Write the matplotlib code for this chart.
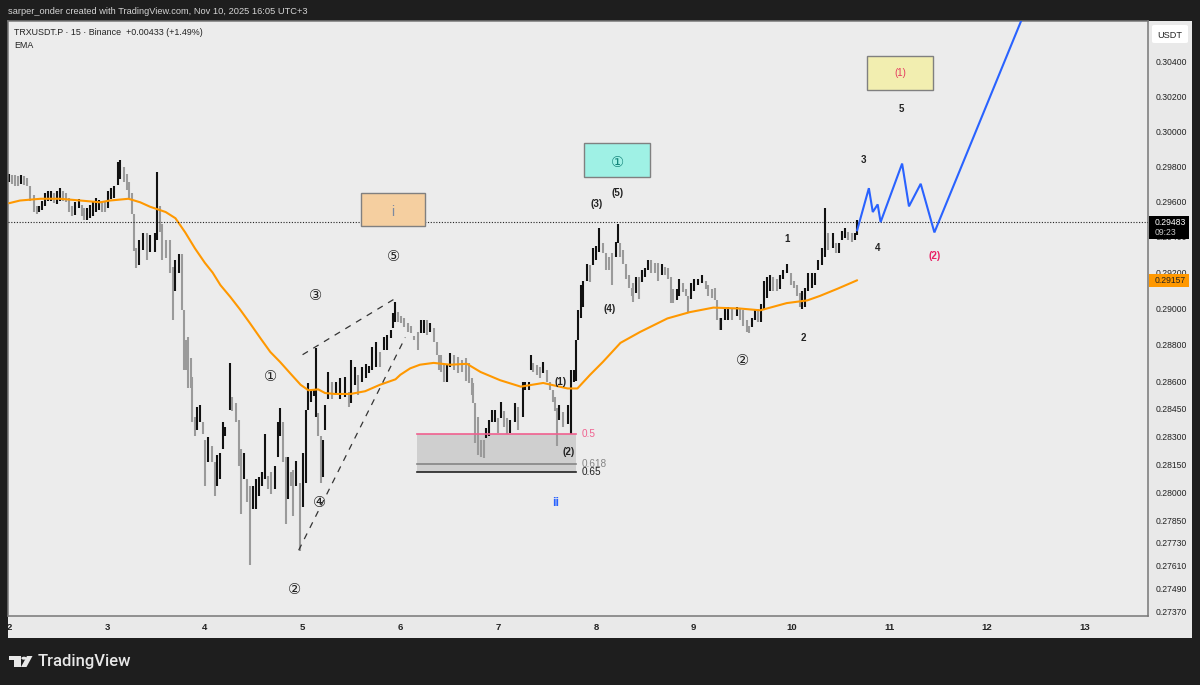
import matplotlib
matplotlib.use("Agg")
import matplotlib.pyplot as plt
from matplotlib.patches import Rectangle, Circle, Polygon, FancyBboxPatch

plt.rcParams['font.family'] = ['Liberation Sans', 'DejaVu Sans', 'Noto Sans CJK SC']

# 15 minute bars (day of month, high, low in 1e-5 USDT)
bar_days = [
    2.00, 2.03, 2.06, 2.09, 2.12, 2.15, 2.18, 2.21, 2.25, 2.28, 2.31, 2.34, 2.37, 2.40, 2.43, 2.46, 2.49, 2.52, 2.55, 2.58,
    2.61, 2.64, 2.67, 2.71, 2.74, 2.77, 2.80, 2.83, 2.86, 2.89, 2.92, 2.95, 2.98, 3.01, 3.04, 3.07, 3.11, 3.13, 3.17, 3.20,
    3.23, 3.26, 3.28, 3.30, 3.33, 3.37, 3.41, 3.44, 3.49, 3.51, 3.54, 3.56, 3.60, 3.64, 3.67, 3.70, 3.74, 3.77, 3.79, 3.81,
    3.83, 3.86, 3.87, 3.90, 3.92, 3.95, 3.98, 4.00, 4.03, 4.07, 4.10, 4.13, 4.16, 4.19, 4.21, 4.26, 4.28, 4.32, 4.35, 4.37,
    4.40, 4.43, 4.46, 4.49, 4.52, 4.55, 4.58, 4.62, 4.65, 4.68, 4.72, 4.75, 4.77, 4.80, 4.83, 4.85, 4.88, 4.90, 4.93, 4.97,
    5.00, 5.03, 5.06, 5.09, 5.12, 5.14, 5.16, 5.19, 5.21, 5.23, 5.26, 5.30, 5.34, 5.38, 5.43, 5.47, 5.50, 5.54, 5.57, 5.61,
    5.65, 5.68, 5.71, 5.75, 5.79, 5.83, 5.86, 5.90, 5.92, 5.95, 5.98, 6.01, 6.04, 6.08, 6.11, 6.14, 6.18, 6.21, 6.24, 6.27,
    6.30, 6.34, 6.37, 6.39, 6.42, 6.45, 6.48, 6.51, 6.55, 6.59, 6.63, 6.67, 6.70, 6.73, 6.74, 6.76, 6.79, 6.82, 6.85, 6.88,
    6.91, 6.94, 6.97, 7.00, 7.03, 7.06, 7.09, 7.12, 7.17, 7.20, 7.25, 7.27, 7.31, 7.34, 7.36, 7.40, 7.43, 7.46, 7.50, 7.53,
    7.56, 7.58, 7.60, 7.62, 7.66, 7.71, 7.74, 7.77, 7.80, 7.82, 7.85, 7.87, 7.91, 7.94, 7.97, 8.00, 8.03, 8.07, 8.10, 8.13,
    8.16, 8.20, 8.22, 8.25, 8.28, 8.31, 8.34, 8.37, 8.38, 8.41, 8.44, 8.47, 8.50, 8.53, 8.56, 8.60, 8.63, 8.67, 8.71, 8.74,
    8.77, 8.79, 8.83, 8.85, 8.89, 8.92, 8.94, 8.97, 9.00, 9.04, 9.08, 9.12, 9.15, 9.19, 9.22, 9.24, 9.27, 9.28, 9.32, 9.35,
    9.39, 9.44, 9.47, 9.50, 9.54, 9.56, 9.60, 9.63, 9.66, 9.69, 9.72, 9.75, 9.78, 9.81, 9.85, 9.88, 9.91, 9.95, 9.99, 10.02,
    10.06, 10.09, 10.11, 10.14, 10.17, 10.21, 10.24, 10.27, 10.31, 10.34, 10.37, 10.42, 10.45, 10.48, 10.52, 10.55, 10.58,
    10.62, 10.65, 10.67,
]
bar_high = [
    29755, 29750, 29750, 29745, 29750, 29745, 29735, 29690, 29635, 29575, 29575, 29605, 29650, 29660, 29660, 29645, 29660, 29675, 29660, 29650,
    29620, 29575, 29595, 29615, 29580, 29560, 29560, 29580, 29605, 29620, 29610, 29605, 29595, 29660, 29675, 29685, 29825, 29835, 29795, 29755,
    29710, 29650, 29530, 29335, 29380, 29420, 29420, 29410, 29420, 29765, 29575, 29470, 29380, 29380, 29230, 29270, 29305, 29305, 28990, 28825,
    28840, 28725, 28620, 28405, 28460, 28470, 28375, 28280, 28295, 28245, 28160, 28200, 28210, 28375, 28350, 28700, 28515, 28480, 28390, 28230,
    28210, 28070, 28030, 28030, 28070, 28080, 28110, 28310, 28085, 28105, 28140, 28375, 28455, 28375, 28190, 28190, 28110, 28120, 28165, 28050,
    28210, 28445, 28590, 28550, 28550, 28780, 28425, 28300, 28280, 28470, 28650, 28595, 28595, 28615, 28620, 28540, 28715, 28675, 28635, 28675,
    28695, 28685, 28785, 28815, 28760, 28840, 28855, 28880, 28975, 29035, 28980, 28960, 28945, 28920, 28905, 28850, 28870, 28935, 28935, 28935,
    28920, 28890, 28815, 28745, 28745, 28690, 28690, 28755, 28745, 28735, 28715, 28725, 28700, 28615, 28590, 28480, 28405, 28280, 28280, 28345,
    28390, 28445, 28445, 28400, 28485, 28435, 28400, 28390, 28480, 28460, 28595, 28595, 28595, 28745, 28700, 28690, 28675, 28705, 28660, 28595,
    28550, 28515, 28455, 28470, 28430, 28470, 28660, 28660, 28825, 28990, 29130, 29155, 29250, 29240, 29335, 29350, 29450, 29365, 29310, 29285,
    29310, 29370, 29475, 29365, 29325, 29250, 29185, 29115, 29140, 29175, 29175, 29215, 29225, 29270, 29270, 29255, 29255, 29250, 29230, 29225,
    29175, 29110, 29110, 29165, 29140, 29110, 29070, 29140, 29165, 29165, 29185, 29155, 29130, 29110, 29115, 29045, 28950, 28950, 29000, 29010,
    28995, 29010, 29000, 28990, 28935, 28905, 28950, 28995, 29000, 29025, 29155, 29175, 29185, 29175, 29165, 29185, 29215, 29250, 29200, 29155,
    29130, 29085, 29100, 29115, 29195, 29200, 29195, 29270, 29340, 29565, 29420, 29420, 29365, 29365, 29435, 29450, 29425,
    29420, 29420, 29495,
]
bar_low = [
    29710, 29700, 29690, 29685, 29700, 29695, 29685, 29605, 29540, 29530, 29540, 29550, 29575, 29605, 29605, 29590, 29585, 29600, 29605, 29595,
    29540, 29515, 29525, 29560, 29520, 29495, 29495, 29505, 29520, 29540, 29550, 29540, 29540, 29560, 29615, 29620, 29695, 29725, 29710, 29665,
    29620, 29530, 29320, 29225, 29240, 29325, 29270, 29315, 29315, 29380, 29425, 29270, 29280, 29200, 28935, 29100, 29195, 28990, 28660, 28660,
    28565, 28565, 28375, 28300, 28335, 28375, 28310, 28030, 28160, 28160, 27980, 28030, 28070, 28230, 28300, 28445, 28435, 28380, 28140, 27885,
    28070, 27945, 27610, 27910, 27910, 27980, 28030, 28070, 28015, 27990, 28015, 28190, 28300, 28160, 27830, 27960, 28030, 27870, 28030, 27685,
    27920, 28050, 28445, 28485, 28520, 28405, 28300, 28050, 28080, 28335, 28505, 28505, 28525, 28505, 28515, 28460, 28480, 28580, 28525, 28595,
    28615, 28645, 28660, 28675, 28675, 28770, 28770, 28835, 28890, 28925, 28925, 28920, 28895, 28870, 28865, 28825, 28770, 28865, 28865, 28855,
    28870, 28815, 28745, 28660, 28650, 28595, 28595, 28675, 28660, 28645, 28650, 28600, 28590, 28525, 28480, 28265, 28200, 28190, 28185, 28290,
    28300, 28375, 28380, 28320, 28400, 28350, 28310, 28320, 28380, 28335, 28405, 28550, 28550, 28660, 28650, 28635, 28615, 28645, 28595, 28550,
    28485, 28435, 28245, 28390, 28350, 28365, 28310, 28595, 28600, 28825, 28945, 29010, 29155, 29145, 29240, 29270, 29315, 29310, 29215, 29215,
    29130, 29285, 29365, 29285, 29250, 29165, 29115, 29070, 29035, 29085, 29055, 29145, 29175, 29215, 29200, 29195, 29155, 29185, 29185, 29165,
    29030, 29030, 29045, 29070, 29090, 29070, 28975, 29055, 29100, 29130, 29140, 29110, 29070, 29060, 29045, 28935, 28880, 28880, 28935, 28935,
    28935, 28960, 28935, 28905, 28870, 28865, 28895, 28935, 28925, 28925, 28990, 29060, 29100, 29100, 29100, 29110, 29165, 29195, 29130, 29115,
    29070, 29010, 29000, 29010, 29100, 29115, 29130, 29215, 29240, 29285, 29325, 29340, 29310, 29310, 29380, 29395, 29380,
    29370, 29380, 29410,
]

# EMA line
ema_days = [
    2.00, 2.11, 2.32, 2.52, 2.73, 2.93, 3.03, 3.22, 3.34, 3.44, 3.60, 3.70, 3.80, 3.90, 4.00, 4.08, 4.16, 4.26, 4.36, 4.46,
    4.57, 4.67, 4.77, 4.87, 4.98, 5.06, 5.16, 5.23, 5.33, 5.49, 5.64, 5.79, 5.95, 6.00, 6.10, 6.20, 6.34, 6.51, 6.68, 6.82,
    7.02, 7.23, 7.46, 7.71, 7.81, 7.94, 8.07, 8.25, 8.45, 8.73, 8.96, 9.20, 9.47, 9.68, 9.95, 10.16, 10.29, 10.47, 10.67,
]
ema_values = [
    29590, 29605, 29615, 29615, 29605, 29595, 29605, 29615, 29595, 29570, 29540, 29505, 29425, 29335, 29255, 29200, 29130, 29065, 28995, 28920,
    28835, 28760, 28705, 28645, 28580, 28550, 28555, 28535, 28530, 28530, 28545, 28580, 28610, 28635, 28670, 28690, 28700, 28690, 28695, 28650,
    28605, 28570, 28590, 28560, 28560, 28635, 28705, 28810, 28870, 28945, 28980, 29005, 29000, 28990, 29030, 29045, 29070, 29110, 29157,
]

# projected wave path
wave_days = [10.67, 10.79, 10.83, 10.88, 10.91, 11.13, 11.20, 11.32, 11.46, 12.44]
wave_prices = [29437, 29675, 29540, 29583, 29483, 29815, 29572, 29700, 29425, 30770]

# trend lines (dashed)
line_a_days = [5.00, 5.93]
line_a_prices = [28745, 29050]
line_b_days = [4.96, 6.05]
line_b_prices = [27690, 28840]

# fib zone
fib_days = [6.17, 7.80]
fib_prices = [28315, 28150, 28105]
fib_names = ["0.5", "0.618", "0.65"]

# target boxes: day from/to, price from/to
box_i = [5.60, 6.25, 29460, 29650]
box_one = [7.88, 8.55, 29739, 29933]
box_top = [10.77, 11.45, 30238, 30435]

# wave labels
wave_labels = ["①", "②", "③", "④", "⑤", "②", "(1)", "(2)", "(3)", "(4)", "(5)", "1", "2", "3", "4", "5"]
label_days = [4.67, 4.92, 5.13, 5.17, 5.93, 9.50, 7.64, 7.72, 8.01, 8.14, 8.22, 9.95, 10.12, 10.73, 10.88, 11.12]
label_prices = [28620, 27480, 29070, 27940, 29285, 28710, 28595, 28215, 29585, 29000, 29650, 29390, 28835, 29835, 29340, 30130]

price_ticks = [0.2737, 0.2749, 0.2761, 0.2773, 0.2785, 0.28, 0.2815, 0.283, 0.2845, 0.286, 0.288, 0.29,
               0.292, 0.294, 0.296, 0.298, 0.30, 0.302, 0.304]
day_ticks = [2, 3, 4, 5, 6, 7, 8, 9, 10, 11, 12, 13]
last_price = 0.29483
ema_last = 0.29157

W, H = 1200, 685
BG = '#1e1e1e'
PANEL = '#ececec'
STRIP = '#e9e9e9'
BORDER = '#777777'


def price(v):
    return [i / 100000 for i in v]


def fig_rect(fig, x0, y0, x1, y1, color, z=-1):
    # rectangle given in screen pixels, for the window furniture around the chart
    fig.patches.append(Rectangle((x0 / W, 1 - y1 / H), (x1 - x0) / W, (y1 - y0) / H, transform=fig.transFigure,
                                 facecolor=color, edgecolor='none', zorder=z))


def fig_label(fig, x, y, s, **kw):
    fig.text(x / W, 1 - y / H, s, va='center', **kw)


def draw_box(ax, box, face, text, text_color, size, text_y):
    ax.add_patch(Rectangle((box[0], box[2] / 100000), box[1] - box[0], (box[3] - box[2]) / 100000,
                           facecolor=face, edgecolor='#808080', lw=1, zorder=3))
    ax.text((box[0] + box[1]) / 2, text_y / 100000, text, color=text_color, fontsize=size,
            ha='center', va='center', zorder=4)


fig = plt.figure(figsize=(W / 100, H / 100), dpi=100, facecolor=BG)
ax = fig.add_axes([8 / W, (H - 616) / H, 1140 / W, 595 / H], facecolor=PANEL)

fig_rect(fig, 8, 616, 1192, 638, STRIP)
fig_rect(fig, 1148, 21, 1192, 616, STRIP)

ax.set_yscale('log')
ax.set_xlim(1.988, 13.644)
ax.set_ylim(0.27344, 0.30639)

# bars, black when the bar sits higher than the one before it
mids = [(h + l) / 2 for h, l in zip(bar_high, bar_low)]
colors = ['#111111'] + ['#111111' if mids[i] >= mids[i - 1] else '#9a9a9a' for i in range(1, len(mids))]
ax.vlines(bar_days, price(bar_low), price(bar_high), colors=colors, lw=1.5, zorder=2)

ax.plot(ema_days, price(ema_values), color='#ff9800', lw=1.5, zorder=3, solid_capstyle='round')
ax.plot(wave_days, price(wave_prices), color='#2962ff', lw=1.5, zorder=4, solid_joinstyle='miter')
ax.plot(line_a_days, price(line_a_prices), color='#333333', lw=0.9, ls=(0, (5, 5)), zorder=3)
ax.plot(line_b_days, price(line_b_prices), color='#333333', lw=0.9, ls=(0, (5, 5)), zorder=3)
ax.axhline(last_price, color='#222222', lw=0.8, ls=(0, (1, 1.5)), zorder=3)

# fib zone
ax.add_patch(Rectangle((fib_days[0], fib_prices[2] / 100000), fib_days[1] - fib_days[0],
                       (fib_prices[0] - fib_prices[2]) / 100000, facecolor='#cfcfcf', edgecolor='none', zorder=1))
fib_colors = ['#f0608f', '#858585', '#222222']
for p, c in zip(fib_prices, fib_colors):
    ax.plot(fib_days, [p / 100000] * 2, color=c, lw=1.2, zorder=2.5)
for p, c, name in zip(fib_prices, fib_colors, fib_names):
    ax.text(fib_days[1] + 0.05, p / 100000, name, color=c, fontsize=7.2, va='center', ha='left', zorder=5)

draw_box(ax, box_i, '#f5cfa0', 'i', '#7d8aa0', 10, 29540)
draw_box(ax, box_one, '#9ff1e5', '①', '#14857a', 10.5, 29820)
draw_box(ax, box_top, '#f2eeb0', '(1)', '#e5395f', 7, 30335)

for s, d, p in zip(wave_labels, label_days, label_prices):
    circled = s in "①②③④⑤"
    ax.text(d, p / 100000, s, color='#222222', fontsize=10.5 if circled else 7,
            fontweight='normal' if circled else 'bold', ha='center', va='center', zorder=5)
ax.text(11.46, 0.29295, "(2)", color='#e91e63', fontsize=7, fontweight='bold', ha='center', va='center', zorder=5)
ax.text(7.59, 0.2794, "ii", color='#2962ff', fontsize=9, fontweight='bold', ha='center', va='center', zorder=5)

# axes
ax.yaxis.tick_right()
ax.set_yticks(price_ticks)
ax.set_yticklabels(['%.5f' % t for t in price_ticks])
ax.minorticks_off()
ax.tick_params(axis='y', which='both', length=0, pad=5.5, labelsize=6.2, labelcolor='#222222')
ax.set_xticks(day_ticks)
ax.set_xticklabels([str(d) for d in day_ticks], fontweight='bold')
ax.tick_params(axis='x', length=0, pad=5, labelsize=6.8, labelcolor='#222222')
for side in ax.spines:
    ax.spines[side].set_color(BORDER)
    ax.spines[side].set_linewidth(1.1)

# price tags and USDT button
fig.patches.append(FancyBboxPatch((1152 / W, 1 - 43 / H), 36 / W, 18 / H, boxstyle='round,pad=0,rounding_size=0.002',
                                  transform=fig.transFigure, facecolor='white', edgecolor='none', zorder=1))
fig_label(fig, 1169.5, 35, 'USDT', color='#222222', fontsize=6.6, ha='center')
fig_rect(fig, 1149, 216, 1189, 239, '#000000', z=5)
fig_label(fig, 1170.5, 222.5, '%.5f' % last_price, color='white', fontsize=6.2, ha='center', zorder=6)
fig_label(fig, 1165.5, 232.5, '09:23', color='#c8c8c8', fontsize=6.2, ha='center', zorder=6)
fig_rect(fig, 1149, 274, 1189, 287, '#ff9800', z=5)
fig_label(fig, 1170.5, 280.5, '%.5f' % ema_last, color='#222222', fontsize=6.2, ha='center', zorder=6)
fig_rect(fig, 0, 618, 8, 638, BG, z=5)
fig_rect(fig, 1192, 0, 1200, 685, BG, z=5)
fig_rect(fig, 0, 638, 1200, 685, BG, z=-0.5)

# header and legend
fig_label(fig, 8, 11.5, 'sarper_onder created with TradingView.com, Nov 10, 2025 16:05 UTC+3', color='#d4d4d4', fontsize=6.7)
fig_label(fig, 14, 32.5, 'TRXUSDT.P · 15 · Binance  +0.00433 (+1.49%)', color='#222222', fontsize=6.4)
fig_label(fig, 14, 45.5, 'EMA', color='#222222', fontsize=6.4)

# TradingView logo
logo = '#e8e8e8'
fig.patches.append(Polygon([(9 / W, 1 - 656 / H), (21 / W, 1 - 656 / H), (21 / W, 1 - 667 / H), (14 / W, 1 - 667 / H),
                            (14 / W, 1 - 660 / H), (9 / W, 1 - 660 / H)], closed=True, transform=fig.transFigure,
                           facecolor=logo, edgecolor='none', zorder=2))
fig.patches.append(Polygon([(27 / W, 1 - 656 / H), (32.5 / W, 1 - 656 / H), (26.5 / W, 1 - 667 / H), (21 / W, 1 - 667 / H)],
                           closed=True, transform=fig.transFigure, facecolor=logo, edgecolor='none', zorder=2))
fig.patches.append(Circle((24 / W, 1 - 658.2 / H), 0.0022, transform=fig.transFigure, facecolor=logo, edgecolor='none', zorder=2))
fig_label(fig, 38, 661.5, 'TradingView', color=logo, fontsize=12, fontweight='medium', family='Roboto')

fig.savefig('out.png', dpi=100, facecolor=BG)
